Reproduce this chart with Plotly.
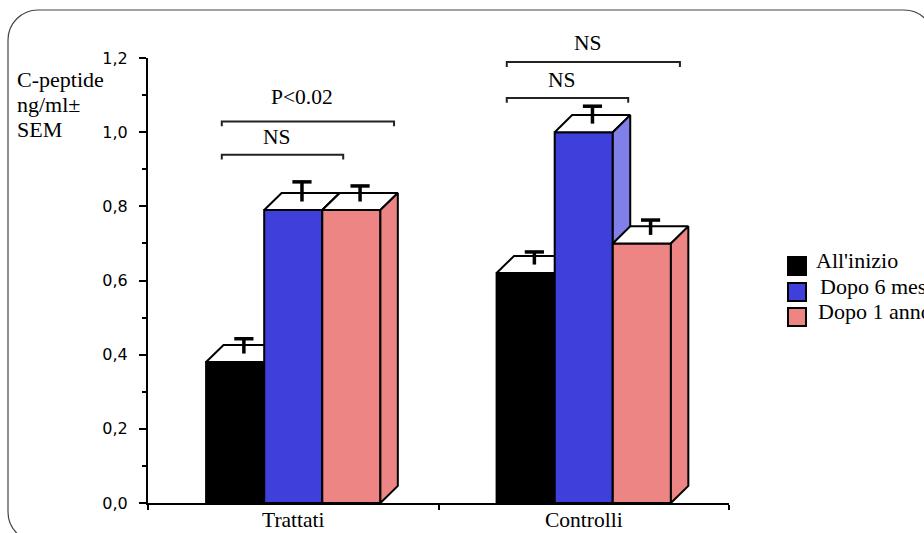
import plotly.graph_objects as go

# ---- data ----------------------------------------------------------------
groups = ["Trattati", "Controlli"]
series_names = ["All'inizio", "Dopo 6 mesi", "Dopo 1 anno"]
start_vals = [0.38, 0.62]
six_month_vals = [0.79, 1.00]
one_year_vals = [0.79, 0.70]
start_sem = [0.040, 0.034]
six_month_sem = [0.053, 0.047]
one_year_sem = [0.042, 0.040]
y_tick_vals = [0.0, 0.2, 0.4, 0.6, 0.8, 1.0, 1.2]
y_tick_text = ["0,0", "0,2", "0,4", "0,6", "0,8", "1,0", "1,2"]

# ---- styling -------------------------------------------------------------
front_colors = ["#000000", "#3f3fdc", "#ee8585"]
side_colors = ["#000000", "#8080e8", "#ee8585"]
top_color = "#ffffff"
SERIF = "Liberation Serif"
SANS = "DejaVu Sans"

W, H = 924, 533
ML, MR, MT, MB = 148, 195, 58, 30
PW, PH = W - ML - MR, H - MT - MB

BAR_W = 0.2           # width of each bar in x units
DX, DY = 0.06, 0.046  # depth of the 3-D extrusion (x units, y units)
CAP = 0.033           # half width of the error-bar cap (x units)


def paper_x(px):
    return (px - ML) / PW


def paper_y(py):
    return (H - MB - py) / PH


fig = go.Figure()

all_vals = [start_vals, six_month_vals, one_year_vals]
all_sem = [start_sem, six_month_sem, one_year_sem]
line = dict(color="black", width=2)

# 3-D bars: front face, top face, side face, drawn left to right
for g in range(len(groups)):
    for s in range(3):
        v = all_vals[s][g]
        x0 = g + (s - 1.5) * BAR_W
        x1 = x0 + BAR_W
        faces = [
            ([x0, x1, x1, x0, x0], [0, 0, v, v, 0], front_colors[s]),
            ([x0, x1, x1 + DX, x0 + DX, x0], [v, v, v + DY, v + DY, v], top_color),
            ([x1, x1 + DX, x1 + DX, x1, x1], [0, DY, v + DY, v, 0], side_colors[s]),
        ]
        for xs, ys, col in faces:
            fig.add_trace(go.Scatter(
                x=xs, y=ys, mode="lines", fill="toself", fillcolor=col,
                line=line, showlegend=False, hoverinfo="skip"))

# error bars (stem + top cap) rising from the middle of each top face
ex, ey = [], []
for s in range(3):
    for g in range(len(groups)):
        xc = g + (s - 1) * BAR_W + DX / 2
        yb = all_vals[s][g] + DY / 2
        yt = yb + all_sem[s][g]
        ex += [xc, xc, None, xc - CAP, xc + CAP, None]
        ey += [yb, yt, None, yt, yt, None]
fig.add_trace(go.Scatter(x=ex, y=ey, mode="lines",
                         line=dict(color="black", width=3.5),
                         showlegend=False, hoverinfo="skip"))

# significance brackets: (x start, x end, y, label, label y in px)
brackets = [
    (-0.246, 0.347, 1.029, "P<0.02", 97.3),
    (-0.246, 0.172, 0.939, "NS", 137.3),
    (0.735, 1.331, 1.189, "NS", 43.3),
    (0.735, 1.153, 1.092, "NS", 80.0),
]
shapes = []
annotations = []
for xa, xb, yb, lab, ly in brackets:
    shapes.append(dict(
        type="path", xref="x", yref="y",
        path=f"M {xa},{yb - 0.013} L {xa},{yb} L {xb},{yb} L {xb},{yb - 0.013}",
        line=dict(color="#222222", width=2)))
    annotations.append(dict(
        x=(xa + xb) / 2 - 0.02, y=paper_y(ly), xref="x", yref="paper",
        text=lab, showarrow=False,
        font=dict(family=SERIF, size=21.5, color="black"),
        xanchor="center", yanchor="middle"))

# category labels under each group
for g, name in enumerate(groups):
    annotations.append(dict(
        x=g, y=paper_y(520), xref="x", yref="paper", text=name,
        showarrow=False, font=dict(family=SERIF, size=21.5, color="black"),
        xanchor="center", yanchor="middle"))

# y axis title, three lines
for txt, py in [("C-peptide", 79), ("ng/ml±", 104), ("SEM", 129)]:
    annotations.append(dict(
        x=paper_x(15), y=paper_y(py), xref="paper", yref="paper", text=txt,
        showarrow=False, font=dict(family=SERIF, size=22, color="black"),
        xanchor="left", yanchor="middle"))

# legend: colored squares with labels
for s, (py, tx) in enumerate([(266, 814), (292, 818), (317, 816)]):
    shapes.append(dict(
        type="rect", xref="paper", yref="paper",
        x0=paper_x(788), x1=paper_x(806), y0=paper_y(py - 9), y1=paper_y(py + 9),
        fillcolor=front_colors[s], line=dict(color="black", width=2)))
    annotations.append(dict(
        x=paper_x(tx), y=paper_y(py - 6), xref="paper", yref="paper",
        text=series_names[s], showarrow=False,
        font=dict(family=SERIF, size=22, color="black"),
        xanchor="left", yanchor="middle"))

# rounded frame around the whole chart
fx0, fy0, fx1, fy1, r = 8, 10, 934, 542, 30
k = 0.5523 * r
pts = [
    ("M", [(fx0 + r, fy0)]),
    ("L", [(fx1 - r, fy0)]),
    ("C", [(fx1 - r + k, fy0), (fx1, fy0 + r - k), (fx1, fy0 + r)]),
    ("L", [(fx1, fy1 - r)]),
    ("C", [(fx1, fy1 - r + k), (fx1 - r + k, fy1), (fx1 - r, fy1)]),
    ("L", [(fx0 + r, fy1)]),
    ("C", [(fx0 + r - k, fy1), (fx0, fy1 - r + k), (fx0, fy1 - r)]),
    ("L", [(fx0, fy0 + r)]),
    ("C", [(fx0, fy0 + r - k), (fx0 + r - k, fy0), (fx0 + r, fy0)]),
]
path = " ".join(
    cmd + " " + " ".join(f"{paper_x(px):.5f},{paper_y(py):.5f}" for px, py in p)
    for cmd, p in pts) + " Z"
shapes.append(dict(type="path", xref="paper", yref="paper", path=path,
                   line=dict(color="#444444", width=1.2), layer="below"))

fig.update_layout(
    width=W, height=H,
    margin=dict(l=ML, r=MR, t=MT, b=MB, pad=0, autoexpand=False),
    paper_bgcolor="white", plot_bgcolor="white",
    showlegend=False,
    shapes=shapes, annotations=annotations,
    xaxis=dict(
        range=[-0.5, 1.5], tickvals=[0, 1], showticklabels=False, ticks="",
        showline=True, linecolor="black", linewidth=2, showgrid=False,
        zeroline=False, fixedrange=True, automargin=False,
        minor=dict(tickvals=[-0.5, 0.5, 1.5], ticks="outside", ticklen=5,
                   tickcolor="black", tickwidth=2, showgrid=False),
    ),
    yaxis=dict(
        range=[0, 1.2], tickvals=y_tick_vals, ticktext=y_tick_text,
        ticks="outside", ticklen=7, tickwidth=2, tickcolor="black",
        showline=True, linecolor="black", linewidth=2, showgrid=False,
        zeroline=False, fixedrange=True, ticklabelstandoff=8, automargin=False,
        tickfont=dict(family=SANS, size=16, color="black"),
        minor=dict(dtick=0.1, ticks="outside", ticklen=4, tickwidth=2,
                   tickcolor="black", showgrid=False),
    ),
)

fig.write_html("out.html")
